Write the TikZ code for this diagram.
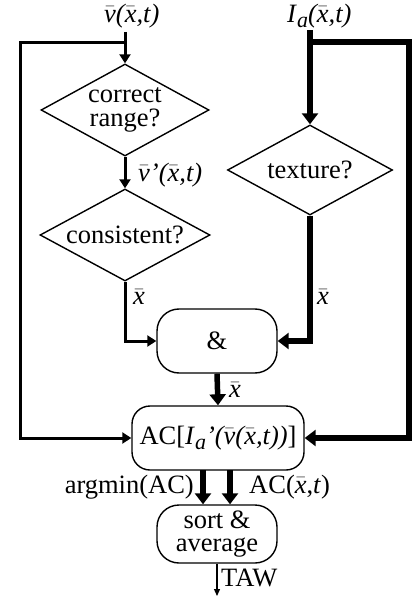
\documentclass[tikz,border=0pt]{standalone}
\usepackage{fontspec}
\setmainfont{Liberation Serif}
\usetikzlibrary{shapes.geometric,arrows.meta,calc}
\newcommand\ob[1]{$\bar{\mbox{\itshape #1}}$}
\newcommand\Ia{\textit{I}\raisebox{-5pt}{\fontsize{22}{22}\selectfont\itshape a}}
\begin{document}
\begin{tikzpicture}[x=1pt,y=-1pt,
  every node/.style={font=\fontsize{26.5}{27}\selectfont},
  dia/.style={diamond, draw, line width=1.4pt, inner sep=0pt, aspect=1.8, align=center},
  rbox/.style={draw, rounded corners=22pt, line width=1.4pt, align=center, inner sep=0pt},
  lab/.style={inner sep=0pt},
  midarrow/.style={line width=3pt, -{Triangle[length=9pt,width=11pt]}},
  midline/.style={line width=3pt},
  thickarrow/.style={line width=5.5pt, -{Triangle[length=11pt,width=16pt]}},
  thickline/.style={line width=5.5pt},
  thinarrow/.style={line width=1.3pt, -{Triangle[length=7pt,width=6pt]}}]
\useasboundingbox (0,0) rectangle (414,601);

% nodes
\node[lab,anchor=west] (vin) at (104,16) {\itshape\ob{v}(\ob{x},t)};
\node[lab,anchor=west] (iin) at (287,16) {\Ia\itshape(\ob{x},t)};
\node[dia,minimum width=168pt,minimum height=92pt] (d1) at (125,110) {correct\\[-3pt]range?};
\node[dia,minimum width=170pt,minimum height=92pt] (d2) at (125,235) {consistent?};
\node[dia,minimum width=165pt,minimum height=90pt] (d3) at (310,170) {texture?};
\node[rbox,minimum width=120pt,minimum height=64pt] (and) at (217,341) {\&};
\node[rbox,minimum width=172pt,minimum height=64pt,rounded corners=18pt] (ac) at (218,438)
  {AC[\Ia\textit{’(\ob{v}(\ob{x},t))}]};
\node[rbox,minimum width=120pt,minimum height=58pt] (sort) at (217,534) {sort \&\\[-4pt]average};

\coordinate (vtop) at (125,32);
\coordinate (vj) at (125,43);
\coordinate (vl) at (20,43);
\coordinate (itop) at (310,30);
\coordinate (ij) at (310,42);
\coordinate (ir) at (409,42);
\coordinate (out) at (217,596);
\coordinate (a1) at (203,470);
\coordinate (a2) at (230,470);

% connectors
\draw[midarrow] (vtop) -- (d1.north);
\draw[midarrow] (vj) -- (vl) |- (ac.west);
\draw[midarrow] (d1.south) -- (d2.north);
\draw[midarrow] (d2.south) |- (and.west);
\draw[thickarrow] (itop) -- (d3.north);
\draw[thickarrow] (ij) -- (ir) |- (ac.east);
\draw[thickarrow] (d3.south) |- (and.east);
\draw[thickarrow] (and.south) -- (ac.north);
\draw[thickarrow] (a1) -- (a1 |- sort.north);
\draw[thickarrow] (a2) -- (a2 |- sort.north);
\draw[thinarrow] (sort.south) -- (out);

% labels
\node[lab,anchor=west] (l1) at (138,175) {\itshape\ob{v}’(\ob{x},t)};
\node[lab,anchor=west] (l2) at (133,297) {\ob{x}};
\node[lab,anchor=west] (l3) at (317,297) {\ob{x}};
\node[lab,anchor=west] (l4) at (229,390) {\ob{x}};
\node[lab,anchor=east] (l5) at (194,487) {argmin(AC)};
\node[lab,anchor=west] (l6) at (249,487) {AC(\ob{x},\textit{t})};
\node[lab,anchor=west] (l7) at (221,578) {TAW};
\end{tikzpicture}
\end{document}
